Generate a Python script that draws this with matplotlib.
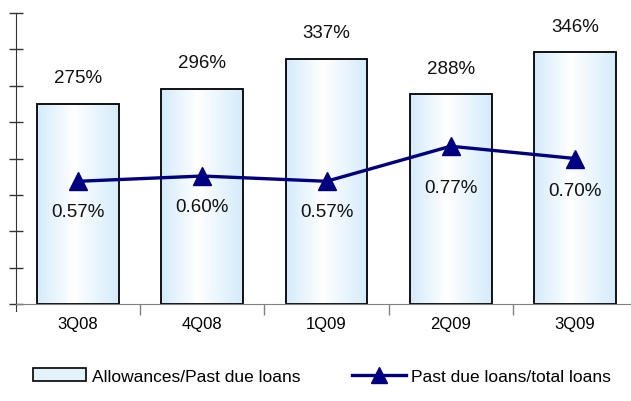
import matplotlib
matplotlib.use("Agg")
import matplotlib.pyplot as plt
import numpy as np
from matplotlib.patches import Rectangle
from matplotlib.lines import Line2D
from matplotlib.colors import LinearSegmentedColormap

plt.rcParams['font.family'] = ['Liberation Sans', 'DejaVu Sans']

categories = ["3Q08", "4Q08", "1Q09", "2Q09", "3Q09"]
allowances = [275, 296, 337, 288, 346]
past_due = [0.57, 0.60, 0.57, 0.77, 0.70]
bar_labels = ["275%", "296%", "337%", "288%", "346%"]
line_labels = ["0.57%", "0.60%", "0.57%", "0.77%", "0.70%"]
line_label_offsets_px = [30, 30, 30, 41, 32]

W, H = 631, 402
fig = plt.figure(figsize=(W/100, H/100), dpi=100)
left_px, right_px, top_px, base_px = 16, 637, 14, 305
ax = fig.add_axes([left_px/W, 1-base_px/H, (right_px-left_px)/W, (base_px-top_px)/H])

cmap = LinearSegmentedColormap.from_list("g", [(0, "#d4ebfb"), (0.45, "#ffffff"), (1, "#d4ebfb")])
grad = np.linspace(0, 1, 256).reshape(1, -1)
bw = 0.66
x = np.arange(len(categories))
for i, v in enumerate(allowances):
    ax.imshow(grad, cmap=cmap, aspect='auto', extent=[i-bw/2, i+bw/2, 0, v], zorder=2, interpolation='bicubic')
    ax.add_patch(Rectangle((i-bw/2, 0), bw, v, facecolor='none', edgecolor='black', lw=1.3, zorder=3))
    ax.annotate(bar_labels[i], xy=(i, v), xytext=(0, 26*0.72), textcoords='offset points',
                ha='center', va='center', fontsize=13.5, color='#111111')
ax.set_xlim(-0.5, 4.5)
ax.set_ylim(0, 400)

for s in ['top', 'right']:
    ax.spines[s].set_visible(False)
ax.spines['left'].set_color('#333333')
ax.spines['bottom'].set_color('#808080')
ax.spines['left'].set_bounds(-10, 400)
ax.set_yticks(np.arange(0, 401, 50))
ax.set_yticklabels([])
ax.tick_params(axis='y', direction='inout', length=10, width=1, color='#333333')
ax.set_xticks(np.arange(0.5, 4.5, 1))
ax.set_xticks(x, minor=True)
ax.set_xticklabels([])
ax.set_xticklabels(categories, minor=True, fontsize=12)
ax.tick_params(axis='x', which='major', direction='out', length=8, width=1, color='#808080')
ax.tick_params(axis='x', which='minor', length=0, pad=9)
ax.spines['bottom'].set_zorder(5)

ax2 = ax.twinx()
ax2.set_ylim(-0.13, 1.53)
ax2.axis('off')
ax2.plot(x, past_due, color='#000080', lw=2.4, marker='^', markersize=13, zorder=4)
for i, v in enumerate(past_due):
    ax2.annotate(line_labels[i], xy=(i, v), xytext=(0, -line_label_offsets_px[i]*0.72), textcoords='offset points',
                 ha='center', va='center', fontsize=13.5, color='#111111')

handles = [Rectangle((0, 0), 1, 1, facecolor='#e4f2fc', edgecolor='black', lw=1.2),
           Line2D([], [], color='#000080', lw=2.4, marker='^', markersize=11)]
fig.legend(handles, ["Allowances/Past due loans", "Past due loans/total loans"],
           loc='center', bbox_to_anchor=(0.51, 1-377/H), ncol=2, frameon=False,
           fontsize=12.5, handlelength=3.1, handletextpad=0.3, columnspacing=3.0)

fig.savefig("out.png", dpi=100)
